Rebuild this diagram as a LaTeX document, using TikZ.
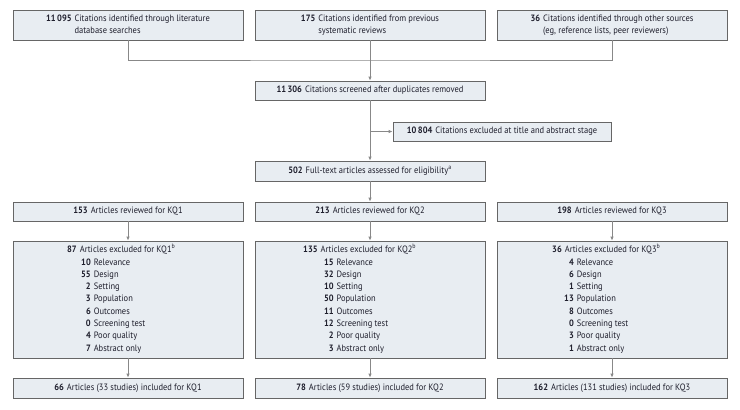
\documentclass[tikz,border=0pt]{standalone}
\usepackage{fontspec}
\setmainfont{PT Sans}[FakeStretch=0.92]
\usetikzlibrary{arrows.meta,calc}
\definecolor{boxfill}{HTML}{E8EDF2}
\definecolor{boxdraw}{HTML}{666666}
\definecolor{linec}{HTML}{888888}
\definecolor{txt}{HTML}{1E1E2C}
\newcommand{\nb}[1]{\textbf{#1}}
\newcommand{\exitem}[3]{& \makebox[#1][r]{\nb{#2}}\hspace{3pt}#3\\}
\begin{document}
\begin{tikzpicture}[x=1pt,y=-1pt,
  box/.style={draw=boxdraw,fill=boxfill,line width=0.8pt,inner sep=0pt,
    minimum width=230pt,minimum height=19pt,text=txt,
    font=\fontsize{9.2}{12}\selectfont},
  listtext/.style={inner sep=0pt,anchor=west,text=txt,
    font=\fontsize{9.2}{12.3}\selectfont},
  conn/.style={draw=linec,line width=0.8pt},
  arr/.style={conn,-{Latex[length=4pt,width=3.5pt]}},
  ]
\useasboundingbox (0,0) rectangle (740,410);
% sources
\node[box,minimum height=30pt] (s1) at (128,25) {\begin{tabular}{@{}r@{\hspace{3pt}}l@{}}\nb{11\,095} & Citations identified through literature\\ & database searches\end{tabular}};
\node[box,minimum height=30pt] (s2) at (370,25) {\begin{tabular}{@{}r@{\hspace{3pt}}l@{}}\nb{175} & Citations identified from previous\\ & systematic reviews\end{tabular}};
\node[box,minimum height=30pt] (s3) at (612,25) {\begin{tabular}{@{}r@{\hspace{3pt}}l@{}}\nb{36} & Citations identified through other sources\\ & (eg, reference lists, peer reviewers)\end{tabular}};
% screened
\node[box] (scr) at (370,90.5) {\nb{11\,306}\hspace{3pt}Citations screened after duplicates removed};
\node[box,minimum width=218pt] (exc) at (502,131.5) {\nb{10\,804}\hspace{3pt}Citations excluded at title and abstract stage};
\node[box,minimum height=20pt] (full) at (370,171) {\nb{502}\hspace{3pt}Full-text articles assessed for eligibility\textsuperscript{a}};
% reviewed
\node[box] (r1) at (128,211.5) {\nb{153}\hspace{3pt}Articles reviewed for KQ1};
\node[box] (r2) at (370,211.5) {\nb{213}\hspace{3pt}Articles reviewed for KQ2};
\node[box] (r3) at (612,211.5) {\nb{198}\hspace{3pt}Articles reviewed for KQ3};
% excluded
\node[box,minimum height=117pt] (e1) at (128,299.5) {};
\node[box,minimum height=117pt] (e2) at (370,299.5) {};
\node[box,minimum height=117pt] (e3) at (612,299.5) {};
\node[listtext] (e1t) at (67,299.5) {\begin{tabular}{@{}r@{\hspace{3pt}}l@{}}
\nb{87} & Articles excluded for KQ1\textsuperscript{b}\\
\exitem{11pt}{10}{Relevance}
\exitem{11pt}{55}{Design}
\exitem{11pt}{2}{Setting}
\exitem{11pt}{3}{Population}
\exitem{11pt}{6}{Outcomes}
\exitem{11pt}{0}{Screening test}
\exitem{11pt}{4}{Poor quality}
\exitem{11pt}{7}{Abstract only}
\end{tabular}};
\node[listtext] (e2t) at (303,299.5) {\begin{tabular}{@{}r@{\hspace{3pt}}l@{}}
\nb{135} & Articles excluded for KQ2\textsuperscript{b}\\
\exitem{13pt}{15}{Relevance}
\exitem{13pt}{32}{Design}
\exitem{13pt}{10}{Setting}
\exitem{13pt}{50}{Population}
\exitem{13pt}{11}{Outcomes}
\exitem{13pt}{12}{Screening test}
\exitem{13pt}{2}{Poor quality}
\exitem{13pt}{3}{Abstract only}
\end{tabular}};
\node[listtext] (e3t) at (552,299.5) {\begin{tabular}{@{}r@{\hspace{3pt}}l@{}}
\nb{36} & Articles excluded for KQ3\textsuperscript{b}\\
\exitem{9pt}{4}{Relevance}
\exitem{9pt}{6}{Design}
\exitem{9pt}{1}{Setting}
\exitem{9pt}{13}{Population}
\exitem{9pt}{8}{Outcomes}
\exitem{9pt}{0}{Screening test}
\exitem{9pt}{3}{Poor quality}
\exitem{9pt}{1}{Abstract only}
\end{tabular}};
% included
\node[box,minimum height=20pt] (i1) at (128,388) {\nb{66}\hspace{3pt}Articles (33 studies) included for KQ1};
\node[box,minimum height=20pt] (i2) at (370,388) {\nb{78}\hspace{3pt}Articles (59 studies) included for KQ2};
\node[box,minimum height=20pt] (i3) at (612,388) {\nb{162}\hspace{3pt}Articles (131 studies) included for KQ3};
% connectors
\coordinate (m) at (370,60);
\draw[conn] (s1.south) |- (m) -| (s3.south);
\draw[arr] (s2.south) -- (scr.north);
\draw[arr] (scr.south) -- (full.north);
\coordinate (b) at (scr.south |- exc.west);
\draw[arr] (b) -- (exc.west);
\draw[arr] (full.south) -- (r2.north);
\draw[arr] (r1.south) -- (e1.north);
\draw[arr] (r2.south) -- (e2.north);
\draw[arr] (r3.south) -- (e3.north);
\draw[arr] (e1.south) -- (i1.north);
\draw[arr] (e2.south) -- (i2.north);
\draw[arr] (e3.south) -- (i3.north);
\end{tikzpicture}
\end{document}
